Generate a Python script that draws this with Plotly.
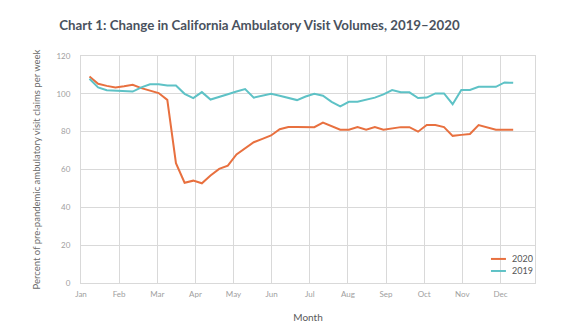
import plotly.graph_objects as go

# Weekly points (index 1..50 across the year)
weeks = list(range(1, 51))
month_labels = ["Jan", "Feb", "Mar", "Apr", "May", "Jun", "Jul", "Aug", "Sep", "Oct", "Nov", "Dec"]
weeks_per_month = 4.41

visits_2020 = [109.2, 105.3, 104.2, 103.4, 104.0, 104.8, 103.0, 101.8, 100.4, 96.8,
               63.3, 53.0, 54.1, 52.7, 56.8, 60.3, 62.0, 68.0, 71.3, 74.4,
               76.2, 78.0, 81.3, 82.5, 82.5, 82.4, 82.4, 84.8, 83.0, 81.0,
               81.0, 82.4, 81.0, 82.4, 81.0, 81.7, 82.4, 82.4, 80.0, 83.5,
               83.5, 82.4, 77.8, 78.3, 78.8, 83.5, 82.3, 81.0, 81.0, 81.0]

visits_2019 = [108.0, 103.4, 101.9, 101.6, 101.2, 101.2, 103.4, 105.1, 105.1, 104.4,
               104.4, 100.0, 97.7, 100.9, 97.0, 98.6, 99.8, 101.2, 102.5, 98.0,
               99.0, 100.0, 99.0, 98.0, 96.7, 98.6, 100.0, 99.0, 95.8, 93.4,
               95.8, 95.8, 96.9, 98.0, 99.7, 102.0, 100.8, 100.8, 97.8, 98.0,
               100.2, 100.2, 94.5, 102.0, 102.0, 103.7, 103.7, 103.7, 106.0, 105.8]

y_ticks = [0, 20, 40, 60, 80, 100, 120]

series = [("2020", visits_2020, "#e8703f"), ("2019", visits_2019, "#5ec2c6")]

fig = go.Figure()
for name, vals, color in series:
    fig.add_trace(go.Scatter(x=weeks, y=vals, mode="lines", name=name,
                             line=dict(color=color, width=2), showlegend=False))

# Compact legend drawn in the lower-right corner of the plot area
legend_y = [0.106, 0.053]
for (name, vals, color), ly in zip(series, legend_y):
    fig.add_shape(type="line", xref="paper", yref="paper",
                  x0=0.903, x1=0.936, y0=ly, y1=ly,
                  line=dict(color=color, width=2))
    fig.add_annotation(xref="paper", yref="paper", x=0.944, y=ly,
                       text=name, showarrow=False, xanchor="left", yanchor="middle",
                       font=dict(size=9, color="#555555"))

grid = "#d9d9d9"
fig.update_layout(
    width=567, height=336,
    margin=dict(l=81, r=32, t=56, b=53),
    paper_bgcolor="white", plot_bgcolor="white",
    font=dict(family="Lato, sans-serif", color="#9a9a9a"),
    title=dict(text="<b>Chart 1: Change in California Ambulatory Visit Volumes, 2019–2020</b>",
               x=0.4575, xanchor="center", y=0.926, yanchor="middle",
               font=dict(family="Lato, sans-serif", size=13.3, color="#4a525e")),
    xaxis=dict(
        range=[0.02, 11.91 * weeks_per_month],
        tickmode="array",
        tickvals=[m * weeks_per_month + 0.02 for m in range(12)],
        ticktext=month_labels,
        showgrid=True, gridcolor=grid, gridwidth=1,
        showline=True, linecolor=grid, linewidth=1, mirror=True,
        zeroline=False, ticks="outside", ticklen=3, tickcolor="rgba(0,0,0,0)",
        tickfont=dict(size=8, color="#a0a0a0"),
        title=dict(text="Month", font=dict(size=10, color="#5a5a5a"), standoff=16),
    ),
    yaxis=dict(
        range=[0, 120],
        tickmode="array", tickvals=y_ticks,
        showgrid=True, gridcolor=grid, gridwidth=1,
        showline=True, linecolor=grid, linewidth=1, mirror=True,
        zeroline=False, ticks="outside", ticklen=8, tickcolor="rgba(0,0,0,0)",
        tickfont=dict(size=8, color="#a0a0a0"),
        title=dict(text="Percent of pre-pandemic ambulatory visit claims per week",
                   font=dict(size=9.5, color="#6a6a6a"), standoff=14),
    ),
)

fig.write_html("out.html")
